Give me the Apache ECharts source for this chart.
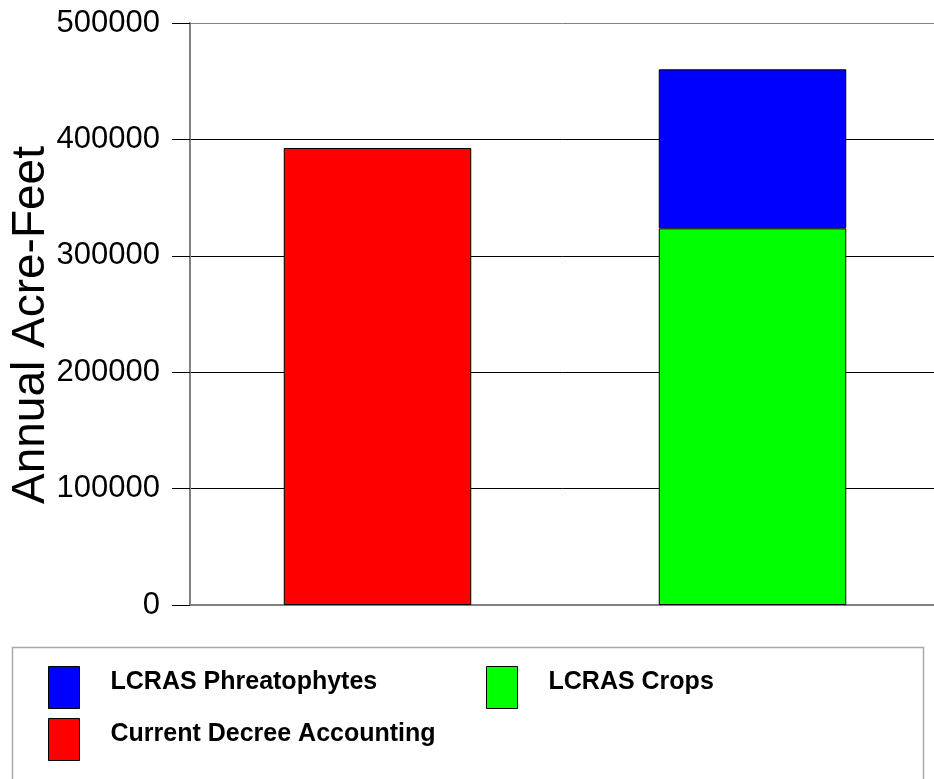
<!DOCTYPE html>
<html>
<head>
<meta charset="utf-8">
<script src="https://cdn.jsdelivr.net/npm/echarts@6/dist/echarts.min.js"></script>
<style>
  html, body { margin: 0; padding: 0; background: #fff; }
  #chart { width: 934px; height: 779px; }
</style>
</head>
<body>
<div id="chart"></div>
<script>
const categories = ['', '']
const decreeAccounting = [392600, '-']
const lcrasCrops = ['-', 323600]
const lcrasPhreatophytes = ['-', 136600]
const yTicks = [0, 100000, 200000, 300000, 400000, 500000]

const narrow = '"Liberation Sans Narrow", "Arial Narrow", "Liberation Sans", Arial, sans-serif'
const plain = '"Liberation Sans", Arial, sans-serif'

const chart = echarts.init(document.getElementById('chart'))

function legendAt(name, left, top) {
  return {
    data: [name],
    left,
    top,
    padding: 0,
    orient: 'horizontal',
    icon: 'rect',
    itemWidth: 31,
    itemHeight: 42,
    selectedMode: false,
    itemStyle: { borderColor: '#000', borderWidth: 1 },
    formatter: '{t|{name}}',
    textStyle: {
      fontFamily: narrow,
      fontWeight: 'bold',
      fontSize: 25,
      color: '#000',
      rich: {
        t: {
          fontFamily: narrow,
          fontWeight: 'bold',
          fontSize: 25,
          color: '#000',
          padding: [0, 0, 10, 26],
        },
      },
    },
  }
}

const barBase = {
  type: 'bar',
  stack: 'total',
  barWidth: '50%',
}

chart.setOption({
  animation: false,
  backgroundColor: '#fff',
  grid: { left: 190, top: 23, width: 750, bottom: 174, containLabel: false, outerBoundsMode: 'none' },
  graphic: [
    {
      type: 'rect',
      left: 10,
      top: 645,
      shape: { width: 911, height: 150 },
      style: { fill: 'none', stroke: '#a8a8a8', lineWidth: 1.5 },
      z: -1,
    },
  ],
  legend: [
    legendAt('LCRAS Phreatophytes', 48, 666),
    legendAt('LCRAS Crops', 486, 666),
    legendAt('Current Decree Accounting', 48, 718),
  ],
  xAxis: {
    type: 'category',
    data: categories,
    axisLine: { lineStyle: { color: '#808080', width: 2 } },
    axisTick: { alignWithLabel: true, length: 20, lineStyle: { color: '#000', width: 1 } },
    axisLabel: { show: false },
  },
  yAxis: {
    type: 'value',
    min: yTicks[0],
    max: yTicks[yTicks.length - 1],
    interval: 100000,
    name: 'Annual Acre-Feet',
    nameLocation: 'middle',
    nameRotate: 90,
    nameGap: 136,
    nameMoveOverlap: false,
    nameTextStyle: { fontFamily: plain, fontSize: 46, color: '#000', padding: [0, 22, 0, 0] },
    axisLine: { show: true, lineStyle: { color: '#808080', width: 2 } },
    axisTick: { show: true, length: 18, inside: false, lineStyle: { color: '#000', width: 1 } },
    axisLabel: { margin: 30, fontFamily: narrow, fontSize: 31, color: '#000', formatter: (v) => String(v) },
    splitLine: {
      lineStyle: { color: ['#808080', '#000', '#000', '#000', '#000', '#808080'], width: 1 },
    },
  },
  series: [
    {
      ...barBase,
      name: 'Current Decree Accounting',
      data: decreeAccounting,
      itemStyle: { color: '#ff0000', borderColor: '#000', borderWidth: 1 },
    },
    {
      ...barBase,
      name: 'LCRAS Crops',
      data: lcrasCrops,
      itemStyle: { color: '#00ff00', borderColor: '#000', borderWidth: 1 },
    },
    {
      ...barBase,
      name: 'LCRAS Phreatophytes',
      data: lcrasPhreatophytes,
      itemStyle: { color: '#0000ff', borderColor: '#000', borderWidth: 1 },
    },
  ],
})
</script>
</body>
</html>
